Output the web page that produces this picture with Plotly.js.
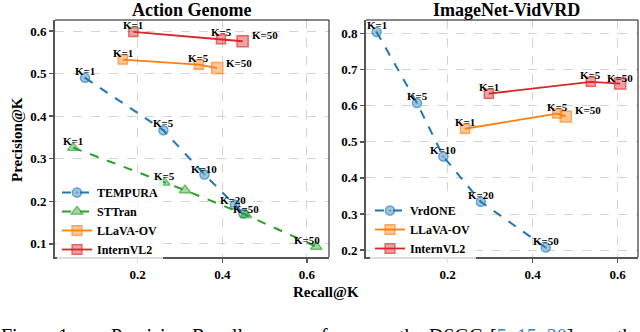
<!DOCTYPE html>
<html>
<head>
<meta charset="utf-8">
<script src="https://cdn.plot.ly/plotly-3.0.1.min.js"></script>
<style>
  html, body { margin: 0; padding: 0; background: #fff; }
  #chart { width: 640px; height: 332px; }
</style>
</head>
<body>
<div id="chart"></div>
<script>
// ---------------- DATA ----------------
// Action Genome
const agTempuraRecall = [0.076, 0.261, 0.358, 0.430, 0.450];
const agTempuraPrec   = [0.490, 0.367, 0.263, 0.192, 0.171];
const agTempuraK      = ['K=1', 'K=5', 'K=10', 'K=20', 'K=50'];

const agSttranRecall  = [0.048, 0.263, 0.312, 0.456, 0.622];
const agSttranPrec    = [0.326, 0.244, 0.226, 0.168, 0.093];
const agSttranK       = ['K=1', 'K=5', '', '', 'K=50'];

const agLlavaRecall   = [0.165, 0.345, 0.388];
const agLlavaPrec     = [0.533, 0.521, 0.513];
const agLlavaK        = ['K=1', 'K=5', 'K=50'];

const agInternRecall  = [0.190, 0.397, 0.448];
const agInternPrec    = [0.598, 0.581, 0.576];
const agInternK       = ['K=1', 'K=5', 'K=50'];

// ImageNet-VidVRD
const vrdVrdoneRecall = [0.033, 0.128, 0.190, 0.278, 0.431];
const vrdVrdonePrec   = [0.804, 0.607, 0.459, 0.334, 0.207];
const vrdVrdoneK      = ['K=1', 'K=5', 'K=10', 'K=20', 'K=50'];

const vrdLlavaRecall  = [0.241, 0.458, 0.478];
const vrdLlavaPrec    = [0.536, 0.578, 0.570];
const vrdLlavaK       = ['K=1', 'K=5', 'K=50'];

const vrdInternRecall = [0.297, 0.537, 0.606];
const vrdInternPrec   = [0.633, 0.666, 0.661];
const vrdInternK      = ['K=1', 'K=5', 'K=50'];

const subplotTitles = ['Action Genome', 'ImageNet-VidVRD'];
const yTicks = [0.1, 0.2, 0.3, 0.4, 0.5, 0.6, 0.7, 0.8];
const xTicks = [0.2, 0.4, 0.6];

// ---------------- STYLE ----------------
const SERIF = 'Liberation Serif, Times New Roman, serif';
const C = {blue: '#1f77b4', green: '#2ca02c', orange: '#ff7f0e', red: '#d62728'};
function rgba(hex, a) {
  const n = parseInt(hex.slice(1), 16);
  return `rgba(${(n >> 16) & 255},${(n >> 8) & 255},${n & 255},${a})`;
}

// label offsets (px): [dx, dy up]
const UP = [0, 7];
const labelOffsets = {
  agTempura: [UP, UP, [0, 5], [-2, 5], [3, 5]],
  agSttran:  [UP, UP, UP, UP, [-9, 7]],
  agLlava:   [UP, UP, [22, 5]],
  agIntern:  [UP, UP, [22, 6]],
  vrdVrdone: [UP, UP, UP, UP, UP],
  vrdLlava:  [UP, UP, [22, 6]],
  vrdIntern: [UP, UP, [0, 6]]
};

const series = [
  {key: 'agTempura', name: 'TEMPURA', x: agTempuraRecall, y: agTempuraPrec, k: agTempuraK, color: C.blue,
   symbol: 'circle-dot', dash: 'dash', size: [9,9,9,9,9], lw: 2, ax: 'x', ay: 'y', legend: 'legend'},
  {key: 'agSttran', name: 'STTran', x: agSttranRecall, y: agSttranPrec, k: agSttranK, color: C.green,
   symbol: 'triangle-up', dash: 'dash', size: [10,10,10,10,10], lw: 2, ax: 'x', ay: 'y', legend: 'legend'},
  {key: 'agLlava', name: 'LLaVA-OV', x: agLlavaRecall, y: agLlavaPrec, k: agLlavaK, color: C.orange,
   symbol: 'square', dash: 'solid', size: [9,9,11], lw: 1.8, ax: 'x', ay: 'y', legend: 'legend'},
  {key: 'agIntern', name: 'InternVL2', x: agInternRecall, y: agInternPrec, k: agInternK, color: C.red,
   symbol: 'square', dash: 'solid', size: [9,9,11], lw: 1.8, ax: 'x', ay: 'y', legend: 'legend'},
  {key: 'vrdVrdone', name: 'VrdONE', x: vrdVrdoneRecall, y: vrdVrdonePrec, k: vrdVrdoneK, color: C.blue,
   symbol: 'circle-dot', dash: 'dash', size: [9,9,9,9,9], lw: 2, ax: 'x2', ay: 'y2', legend: 'legend2'},
  {key: 'vrdLlava', name: 'LLaVA-OV', x: vrdLlavaRecall, y: vrdLlavaPrec, k: vrdLlavaK, color: C.orange,
   symbol: 'square', dash: 'solid', size: [9,9,11], lw: 1.8, ax: 'x2', ay: 'y2', legend: 'legend2'},
  {key: 'vrdIntern', name: 'InternVL2', x: vrdInternRecall, y: vrdInternPrec, k: vrdInternK, color: C.red,
   symbol: 'square', dash: 'solid', size: [9,9,11], lw: 1.8, ax: 'x2', ay: 'y2', legend: 'legend2'}
];

const traces = series.map(s => ({
  type: 'scatter', mode: 'lines+markers', name: s.name,
  x: s.x, y: s.y, xaxis: s.ax, yaxis: s.ay, legend: s.legend,
  line: {color: s.color, width: s.lw, dash: s.dash},
  marker: {symbol: s.symbol, size: s.size, color: rgba(s.color, 0.6),
           line: {color: s.color, width: 1.5}},
  cliponaxis: false
}));

const annotations = [];
const LABEL_FONT = {family: SERIF, size: 11, color: '#000', weight: 'bold'};
series.forEach(s => {
  s.k.forEach((lbl, i) => {
    if (!lbl) return;
    const off = labelOffsets[s.key][i];
    annotations.push({
      x: s.x[i], y: s.y[i], xref: s.ax, yref: s.ay, text: lbl, showarrow: false,
      xshift: off[0], yshift: off[1], xanchor: 'center', yanchor: 'middle',
      font: LABEL_FONT
    });
  });
});

// subplot titles
const TITLE_FONT = {family: SERIF, size: 18, color: '#000', weight: 'bold'};
annotations.push({xref: 'paper', yref: 'paper', x: 191 / 640, y: 1 - 10 / 332, text: subplotTitles[0],
  showarrow: false, xanchor: 'center', yanchor: 'middle', font: TITLE_FONT});
annotations.push({xref: 'paper', yref: 'paper', x: 506 / 640, y: 1 - 10 / 332, text: subplotTitles[1],
  showarrow: false, xanchor: 'center', yanchor: 'middle', font: TITLE_FONT});

// axis titles
const AXT_FONT = {family: SERIF, size: 15, color: '#000', weight: 'bold'};
annotations.push({xref: 'paper', yref: 'paper', x: 17 / 640, y: 1 - 140 / 332, text: 'Precision@K',
  textangle: -90, showarrow: false, xanchor: 'center', yanchor: 'middle', font: AXT_FONT});
annotations.push({xref: 'paper', yref: 'paper', x: 326 / 640, y: 1 - 292 / 332, text: 'Recall@K',
  showarrow: false, xanchor: 'center', yanchor: 'middle', font: AXT_FONT});

// cut-off caption below the figure
const CAP_FONT = {family: SERIF, size: 20, color: '#000'};
const capPieces = [
  ['Figure 1.', 0], ['Precision-Recall', 110], ['curves', 254], ['for', 320], ['the', 398],
  ['DSGG', 428], ['[<span style="color:#3b7fc4">5</span>, <span style="color:#3b7fc4">15</span>, <span style="color:#3b7fc4">30</span>]', 489],
  ['that', 616]
];
capPieces.forEach(p => annotations.push({
  xref: 'paper', yref: 'paper', x: p[1] / 640, y: 1 - 324 / 332, text: p[0], showarrow: false,
  xanchor: 'left', yanchor: 'top', font: CAP_FONT, borderpad: 0
}));

// frame: thin black top/right lines
const shapes = [];
[['x', 'y'], ['x2', 'y2']].forEach(([xa, ya]) => {
  shapes.push({type: 'line', xref: xa + ' domain', yref: ya + ' domain', x0: 0, x1: 1, y0: 1, y1: 1,
    line: {color: '#111', width: 1}});
  shapes.push({type: 'line', xref: xa + ' domain', yref: ya + ' domain', x0: 1, x1: 1, y0: 0, y1: 1,
    line: {color: '#111', width: 1}});
});

const TICK_FONT = {family: SERIF, size: 13, color: '#000', weight: 'bold'};
function axisBase(extra) {
  return Object.assign({
    showline: true, linecolor: '#555', linewidth: 2, mirror: false,
    ticks: 'outside', ticklen: 4, tickwidth: 1.5, tickcolor: '#555',
    showgrid: true, gridcolor: '#d3d3d3', griddash: 'dash', gridwidth: 1,
    zeroline: false, tickfont: TICK_FONT, tickformat: '.1f', fixedrange: true
  }, extra);
}

const LEG_FONT = {family: SERIF, size: 12, color: '#000', weight: 'bold'};
const layout = {
  width: 640, height: 332,
  margin: {l: 0, r: 0, t: 0, b: 0},
  paper_bgcolor: '#fff', plot_bgcolor: '#fff',
  showlegend: true,
  xaxis: axisBase({domain: [55 / 640, 329 / 640], range: [0.005, 0.652], tickvals: xTicks, anchor: 'y'}),
  yaxis: axisBase({domain: [1 - 257 / 332, 1 - 20 / 332], range: [0.069, 0.626], tickvals: yTicks, anchor: 'x'}),
  xaxis2: axisBase({domain: [366 / 640, 638 / 640], range: [0.008, 0.648], tickvals: xTicks, anchor: 'y2'}),
  yaxis2: axisBase({domain: [1 - 257 / 332, 1 - 20 / 332], range: [0.181, 0.837], tickvals: yTicks, anchor: 'x2'}),
  legend: {x: 57 / 640, y: 1 - 178 / 332, xanchor: 'left', yanchor: 'top', font: LEG_FONT,
           bgcolor: 'rgba(255,255,255,0.8)', borderwidth: 0, itemwidth: 30, tracegroupgap: 0},
  legend2: {x: 370 / 640, y: 1 - 196 / 332, xanchor: 'left', yanchor: 'top', font: LEG_FONT,
            bgcolor: 'rgba(255,255,255,0.8)', borderwidth: 0, itemwidth: 30, tracegroupgap: 0},
  annotations: annotations,
  shapes: shapes
};

Plotly.newPlot('chart', traces, layout, {staticPlot: true, displayModeBar: false});
</script>
</body>
</html>
